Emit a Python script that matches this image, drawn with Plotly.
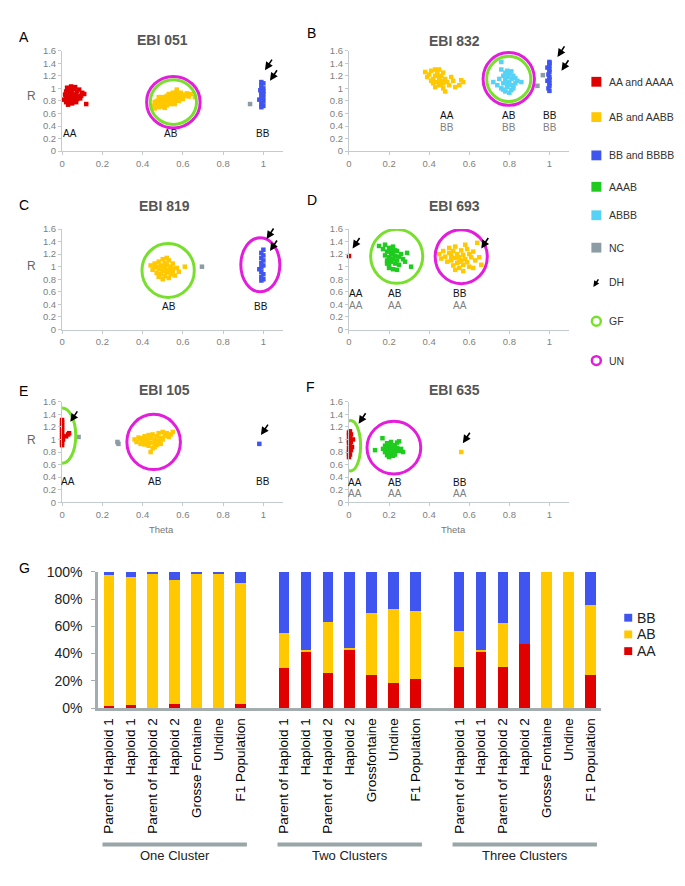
import plotly.graph_objects as go

# the page body keeps an 8px margin, so the figure is 16px smaller than the window
PAGE_W, PAGE_H, PAD = 685, 886, 8
W, H = PAGE_W - 2 * PAD, PAGE_H - 2 * PAD
FONT = "Arial, Liberation Sans, sans-serif"

RED = "#e00000"
YEL = "#ffc800"
BLU = "#4055ef"
GRN = "#1ecb1e"
CYN = "#55d2f5"
NCG = "#8c9ca4"
GF_COL = "#78e02c"
UN_COL = "#e41ddc"

# ---------------- scatter data (theta, R) ----------------
# A  EBI 051
a_aa_x = [0.01, 0.015, 0.02, 0.02, 0.025, 0.03, 0.03, 0.035, 0.04, 0.04, 0.045, 0.05, 0.05, 0.055, 0.06, 0.06,
          0.065, 0.07, 0.07, 0.075, 0.08, 0.085, 0.09, 0.095, 0.10, 0.11, 0.12, 0.02, 0.03, 0.04, 0.05, 0.06,
          0.035, 0.045, 0.055, 0.025, 0.065, 0.075]
a_aa_y = [0.82, 0.9, 0.78, 0.95, 0.85, 0.74, 1.0, 0.88, 0.8, 0.97, 1.03, 0.76, 0.92, 0.86, 0.99, 0.82,
          1.02, 0.9, 0.78, 0.95, 0.87, 0.98, 0.84, 0.88, 0.93, 0.91, 0.75, 0.87, 0.93, 0.85, 1.0, 0.9,
          0.8, 0.94, 0.79, 1.01, 0.86, 0.83]
a_ab_x = [0.45, 0.46, 0.47, 0.47, 0.48, 0.48, 0.49, 0.49, 0.50, 0.50, 0.50, 0.51, 0.51, 0.52, 0.52, 0.52,
          0.53, 0.53, 0.53, 0.54, 0.54, 0.54, 0.55, 0.55, 0.55, 0.56, 0.56, 0.57, 0.57, 0.58, 0.58, 0.59,
          0.59, 0.60, 0.60, 0.61, 0.62, 0.63, 0.64, 0.66, 0.46, 0.48, 0.51, 0.56, 0.57]
a_ab_y = [0.72, 0.68, 0.75, 0.80, 0.70, 0.78, 0.74, 0.83, 0.71, 0.79, 0.86, 0.76, 0.82, 0.73, 0.80, 0.88,
          0.77, 0.84, 0.91, 0.75, 0.82, 0.88, 0.79, 0.86, 0.93, 0.81, 0.90, 0.84, 0.95, 0.80, 0.89, 0.86,
          0.93, 0.83, 0.90, 0.88, 0.92, 0.87, 0.91, 0.86, 0.78, 0.86, 0.69, 0.75, 0.98]
a_nc_x = [0.934]
a_nc_y = [0.75]
a_bb_x = [0.99, 1.0, 0.99, 1.0, 0.98, 1.0, 0.99, 1.0, 0.99, 1.0, 0.985, 1.0, 0.99, 1.0, 0.99]
a_bb_y = [0.70, 0.72, 0.76, 0.79, 0.82, 0.85, 0.88, 0.91, 0.93, 0.95, 0.97, 1.0, 1.04, 1.08, 1.1]

# B  EBI 832
b_ab_x = [0.38, 0.39, 0.40, 0.41, 0.41, 0.42, 0.42, 0.43, 0.43, 0.44, 0.44, 0.45, 0.45, 0.45, 0.46, 0.46,
          0.47, 0.47, 0.48, 0.48, 0.49, 0.50, 0.51, 0.52, 0.53, 0.55, 0.56, 0.57, 0.44, 0.46, 0.43, 0.47]
b_ab_y = [1.26, 1.18, 1.22, 1.12, 1.28, 1.15, 1.08, 1.2, 1.3, 1.1, 1.25, 1.05, 1.16, 1.3, 1.12, 1.2,
          1.0, 1.08, 1.15, 0.95, 1.1, 1.05, 1.18, 1.12, 1.02, 1.05, 1.13, 1.1, 1.22, 1.06, 1.02, 1.25]
b_abbb_x = [0.72, 0.74, 0.75, 0.76, 0.76, 0.77, 0.77, 0.78, 0.78, 0.78, 0.79, 0.79, 0.79, 0.80, 0.80, 0.80,
            0.81, 0.81, 0.81, 0.82, 0.82, 0.83, 0.83, 0.84, 0.86, 0.76, 0.79, 0.77, 0.80, 0.82, 0.78, 0.81]
b_abbb_y = [1.10, 1.05, 1.15, 1.42, 1.00, 1.20, 1.08, 0.95, 1.12, 1.25, 1.02, 1.18, 1.28, 0.93, 1.10, 1.22,
            1.05, 1.15, 1.27, 1.00, 1.20, 1.08, 1.16, 1.12, 1.10, 1.30, 1.06, 0.98, 1.25, 1.04, 1.18, 0.97]
b_nc_x = [0.94, 0.967]
b_nc_y = [1.04, 1.21]
b_bb_x = [1.0, 0.995, 1.0, 1.0, 0.99, 1.0, 1.0, 0.995, 1.0, 1.0, 0.99, 1.0, 1.0, 1.0]
b_bb_y = [0.96, 1.0, 1.04, 1.08, 1.12, 1.14, 1.18, 1.22, 1.26, 1.30, 1.33, 1.36, 1.40, 1.42]

# C  EBI 819
c_ab_x = [0.44, 0.45, 0.46, 0.47, 0.47, 0.48, 0.48, 0.49, 0.49, 0.50, 0.50, 0.50, 0.51, 0.51, 0.51, 0.52,
          0.52, 0.53, 0.53, 0.53, 0.54, 0.54, 0.55, 0.55, 0.56, 0.57, 0.58, 0.61, 0.48, 0.52, 0.55, 0.50, 0.46]
c_ab_y = [1.02, 0.95, 1.05, 0.90, 1.0, 0.96, 1.08, 0.88, 1.02, 0.93, 1.0, 1.12, 0.85, 0.97, 1.06, 0.91,
          1.03, 0.82, 0.95, 1.1, 0.88, 1.0, 0.93, 1.05, 0.86, 0.98, 0.92, 1.0, 0.84, 1.14, 0.97, 0.8, 0.99]
c_nc_x = [0.695]
c_nc_y = [1.0]
c_bb_x = [0.99, 1.0, 0.99, 1.0, 0.99, 0.98, 0.99, 1.0, 0.99, 1.0, 0.99, 1.0, 0.99, 1.0]
c_bb_y = [0.78, 0.80, 0.84, 0.88, 0.92, 0.96, 0.99, 1.02, 1.06, 1.10, 1.14, 1.18, 1.22, 1.27]

# D  EBI 693
d_aa_x = [0.0]
d_aa_y = [1.17]
d_aaab_x = [0.15, 0.17, 0.18, 0.18, 0.19, 0.19, 0.20, 0.20, 0.20, 0.21, 0.21, 0.21, 0.22, 0.22, 0.22, 0.23,
            0.23, 0.24, 0.24, 0.25, 0.25, 0.26, 0.27, 0.28, 0.29, 0.31, 0.20, 0.22, 0.24, 0.19, 0.21, 0.23]
d_aaab_y = [1.33, 1.28, 1.18, 1.35, 1.10, 1.24, 1.02, 1.15, 1.30, 1.08, 1.20, 1.27, 0.96, 1.12, 1.22, 1.05,
            1.17, 1.10, 1.25, 1.03, 1.16, 1.20, 1.12, 1.08, 1.22, 1.0, 0.98, 1.32, 0.95, 1.05, 1.13, 1.26]
d_ab_x = [0.45, 0.46, 0.47, 0.48, 0.49, 0.50, 0.50, 0.51, 0.51, 0.52, 0.52, 0.53, 0.53, 0.54, 0.54, 0.55,
          0.55, 0.56, 0.56, 0.57, 0.57, 0.58, 0.58, 0.59, 0.60, 0.60, 0.61, 0.62, 0.63, 0.64, 0.65, 0.66,
          0.53, 0.57, 0.55, 0.59, 0.51, 0.62]
d_ab_y = [1.2, 1.13, 1.25, 1.16, 1.08, 1.22, 1.3, 1.1, 1.18, 1.02, 1.25, 1.14, 1.32, 1.06, 1.2, 0.98,
          1.15, 1.1, 1.26, 1.03, 1.19, 1.12, 1.35, 1.07, 1.2, 1.0, 1.15, 1.24, 1.1, 1.38, 1.15, 1.03,
          0.95, 0.93, 1.08, 1.28, 1.13, 0.98]

# E  EBI 105
e_aa_x = [0.0, 0.0, 0.0, 0.0, 0.0, 0.0, 0.0, 0.0, 0.0, 0.0, 0.0, 0.005, 0.02, 0.03, 0.035]
e_aa_y = [0.91, 0.95, 0.99, 1.03, 1.07, 1.11, 1.15, 1.19, 1.23, 1.27, 1.31, 1.0, 1.05, 1.08, 1.1]
e_nc_x = [0.082, 0.275, 0.28]
e_nc_y = [1.04, 0.96, 0.93]
e_ab_x = [0.36, 0.37, 0.38, 0.39, 0.39, 0.40, 0.41, 0.41, 0.42, 0.42, 0.43, 0.43, 0.44, 0.44, 0.45, 0.45,
          0.46, 0.46, 0.47, 0.47, 0.48, 0.48, 0.49, 0.49, 0.50, 0.50, 0.51, 0.52, 0.53, 0.54, 0.55, 0.44,
          0.46, 0.42, 0.48, 0.40]
e_ab_y = [1.0, 0.96, 1.03, 0.93, 1.01, 0.98, 1.05, 0.92, 1.0, 0.96, 1.07, 0.9, 1.02, 0.95, 1.08, 0.86,
          1.0, 0.94, 1.05, 0.91, 1.1, 0.98, 1.02, 0.93, 1.12, 1.0, 1.06, 1.1, 1.04, 1.08, 1.12, 0.8,
          0.88, 0.97, 0.95, 1.02]
e_bb_x = [0.98]
e_bb_y = [0.93]

# F  EBI 635
f_aa_x = [0.0, 0.005, 0.0, 0.01, 0.0, 0.015, 0.005, 0.0, 0.01, 0.0, 0.02, 0.005, 0.0, 0.01, 0.0, 0.005, 0.0]
f_aa_y = [0.72, 0.76, 0.80, 0.83, 0.86, 0.88, 0.91, 0.94, 0.96, 0.99, 1.0, 1.03, 1.06, 1.08, 1.11, 1.13, 0.78]
f_aaab_x = [0.13, 0.167, 0.17, 0.18, 0.18, 0.19, 0.19, 0.20, 0.20, 0.20, 0.21, 0.21, 0.21, 0.22,
            0.22, 0.23, 0.23, 0.24, 0.24, 0.25, 0.25, 0.26, 0.27, 0.22, 0.2, 0.23, 0.19, 0.21]
f_aaab_y = [0.83, 1.02, 0.85, 0.80, 0.90, 0.75, 0.86, 0.82, 0.93, 0.72, 0.78, 0.88, 0.96, 0.84,
            0.74, 0.80, 0.91, 0.86, 0.95, 0.82, 0.97, 0.85, 0.80, 0.89, 0.79, 0.76, 0.94, 0.83]
f_ab_x = [0.56]
f_ab_y = [0.80]

# circled groups: (kind, centre theta, centre R, half width, half height)
a_rings = [("UN", 0.553, 0.78, 0.133, 0.41), ("GF", 0.553, 0.78, 0.115, 0.355)]
b_rings = [("UN", 0.797, 1.15, 0.128, 0.42), ("GF", 0.797, 1.15, 0.110, 0.36)]
c_rings = [("GF", 0.527, 0.94, 0.130, 0.43), ("UN", 0.985, 1.03, 0.097, 0.43)]
d_rings = [("GF", 0.238, 1.165, 0.130, 0.43), ("UN", 0.56, 1.16, 0.130, 0.43)]
e_rings = [("GF", 0.0, 1.06, 0.068, 0.44), ("UN", 0.455, 0.96, 0.133, 0.44)]
f_rings = [("GF", 0.008, 0.90, 0.050, 0.40), ("UN", 0.224, 0.87, 0.134, 0.42)]

# DH arrows (tip theta, tip R)
a_dh = [(1.008, 1.29), (1.033, 1.12)]
b_dh = [(1.04, 1.50), (1.06, 1.28)]
c_dh = [(1.016, 1.44), (1.033, 1.25)]
d_dh = [(0.018, 1.29), (0.66, 1.29)]
e_dh = [(0.041, 1.28), (0.988, 1.07)]
f_dh = [(0.048, 1.25), (0.568, 0.94)]

# cluster call labels (theta, R, first line, second line)
a_calls = [(0.04, 0.28, "AA", ""), (0.54, 0.28, "AB", ""), (1.0, 0.28, "BB", "")]
b_calls = [(0.49, 0.56, "AA", "BB"), (0.80, 0.56, "AB", "BB"), (1.005, 0.56, "BB", "BB")]
c_calls = [(0.53, 0.37, "AB", ""), (0.99, 0.37, "BB", "")]
d_calls = [(0.035, 0.57, "AA", "AA"), (0.23, 0.57, "AB", "AA"), (0.556, 0.57, "BB", "AA")]
e_calls = [(0.03, 0.33, "AA", ""), (0.46, 0.33, "AB", ""), (1.0, 0.33, "BB", "")]
f_calls = [(0.03, 0.32, "AA", "AA"), (0.23, 0.32, "AB", "AA"), (0.556, 0.32, "BB", "AA")]

titles = ["EBI 051", "EBI 832", "EBI 819", "EBI 693", "EBI 105", "EBI 635"]

# ---------------- bar chart data (% of samples) ----------------
groups = ["One Cluster", "Two Clusters", "Three Clusters"]
labels_one = ["Parent of Haploid 1", "Haploid 1", "Parent of Haploid 2", "Haploid 2",
              "Grosse Fontaine", "Undine", "F1 Population"]
labels_two = ["Parent of Haploid 1", "Haploid 1", "Parent of Haploid 2", "Haploid 2",
              "Grossfontaine", "Undine", "F1 Population"]
labels_three = ["Parent of Haploid 1", "Haploid 1", "Parent of Haploid 2", "Haploid 2",
                "Grosse Fontaine", "Undine", "F1 Population"]
aa_one = [1.2, 2.0, 0.0, 2.8, 0.0, 0.0, 2.8]
ab_one = [96.4, 94.0, 98.3, 91.6, 99.0, 98.3, 89.2]
bb_one = [2.4, 4.0, 1.7, 5.6, 1.0, 1.7, 8.0]
aa_two = [29.5, 41.0, 26.0, 42.5, 24.0, 18.5, 21.0]
ab_two = [25.3, 1.5, 37.0, 1.5, 46.0, 54.5, 50.5]
bb_two = [45.2, 57.5, 37.0, 56.0, 30.0, 27.0, 28.5]
aa_three = [30.5, 41.5, 30.5, 47.0, 0.0, 0.0, 24.5]
ab_three = [26.0, 0.8, 32.0, 0.0, 100.0, 100.0, 51.0]
bb_three = [43.5, 57.7, 37.5, 53.0, 0.0, 0.0, 24.5]
pct_ticks = [0, 20, 40, 60, 80, 100]


def px_x(x):
    # page pixel -> paper fraction
    return (x - PAD) / W


def px_y(y):
    return 1 - (y - PAD) / H


def paper_text(x, y, text, size, color, xanchor="center"):
    return dict(x=px_x(x), y=px_y(y), xref="paper", yref="paper", text=text, showarrow=False,
                xanchor=xanchor, yanchor="middle", font=dict(family=FONT, size=size, color=color))


fig = go.Figure()

panels = [
    ([(a_aa_x, a_aa_y, RED), (a_ab_x, a_ab_y, YEL), (a_nc_x, a_nc_y, NCG), (a_bb_x, a_bb_y, BLU)],
     a_rings, a_dh, a_calls),
    ([(b_ab_x, b_ab_y, YEL), (b_abbb_x, b_abbb_y, CYN), (b_nc_x, b_nc_y, NCG), (b_bb_x, b_bb_y, BLU)],
     b_rings, b_dh, b_calls),
    ([(c_ab_x, c_ab_y, YEL), (c_nc_x, c_nc_y, NCG), (c_bb_x, c_bb_y, BLU)],
     c_rings, c_dh, c_calls),
    ([(d_aa_x, d_aa_y, RED), (d_aaab_x, d_aaab_y, GRN), (d_ab_x, d_ab_y, YEL)],
     d_rings, d_dh, d_calls),
    ([(e_aa_x, e_aa_y, RED), (e_nc_x, e_nc_y, NCG), (e_ab_x, e_ab_y, YEL), (e_bb_x, e_bb_y, BLU)],
     e_rings, e_dh, e_calls),
    ([(f_aa_x, f_aa_y, RED), (f_aaab_x, f_aaab_y, GRN), (f_ab_x, f_ab_y, YEL)],
     f_rings, f_dh, f_calls),
]

# pixel boxes of the six scatter plot areas (left, right, top=1.6, bottom=0)
col_px = [(59.3, 281.7), (347.5, 569.0)]
row_px = [(43.3, 145.7), (225.0, 327.4), (401.0, 503.4)]
letter_pos = [(21, 29), (310, 25), (21, 201), (310, 195), (21, 390), (309, 386)]
title_pos = [(160, 32), (453, 33), (162, 202), (453, 202), (162, 389), (453, 389)]

shapes = []
annotations = []
layout_axes = {}

for i, (traces, rings, dh, calls) in enumerate(panels):
    n = i + 1
    xa = "x" if n == 1 else f"x{n}"
    ya = "y" if n == 1 else f"y{n}"
    c0, c1 = col_px[i % 2]
    r0, r1 = row_px[i // 2]
    for xs, ys, col in traces:
        fig.add_trace(go.Scatter(
            x=xs, y=ys, mode="markers", xaxis=xa, yaxis=ya, cliponaxis=False,
            marker=dict(symbol="square", size=4.5, color=col, line=dict(width=0)),
            showlegend=False, hoverinfo="skip",
        ))
    axis_common = dict(
        showline=True, linecolor="#c3cbcf", linewidth=1, ticks="outside", ticklen=3,
        tickcolor="#c3cbcf", tickfont=dict(family=FONT, size=9.5, color="#808080"),
        showgrid=False, zeroline=False, fixedrange=True,
    )
    layout_axes["xaxis" if n == 1 else f"xaxis{n}"] = dict(
        domain=[px_x(c0), px_x(c1)], range=[0, 1.1], tick0=0, dtick=0.2,
        anchor=ya, **axis_common)
    layout_axes["yaxis" if n == 1 else f"yaxis{n}"] = dict(
        domain=[px_y(r1), px_y(r0)], range=[0, 1.6], tick0=0, dtick=0.2,
        anchor=xa, **axis_common)

    for kind, cx, cy, rx, ry in rings:
        shapes.append(dict(
            type="circle", xref=xa, yref=ya, x0=cx - rx, x1=cx + rx, y0=cy - ry, y1=cy + ry,
            line=dict(color=GF_COL if kind == "GF" else UN_COL, width=3)))
    for tx, ty in dh:
        annotations.append(dict(
            x=tx, y=ty, xref=xa, yref=ya, ax=8, ay=-12, text="", showarrow=True,
            arrowhead=2, arrowsize=1, arrowwidth=1.6, arrowcolor="black"))
    for cx, cy, top, bottom in calls:
        annotations.append(dict(x=cx, y=cy, xref=xa, yref=ya, text=top, showarrow=False,
                                font=dict(family=FONT, size=10, color="#111")))
        if bottom:
            annotations.append(dict(x=cx, y=cy - 0.18, xref=xa, yref=ya, text=bottom,
                                    showarrow=False, font=dict(family=FONT, size=10, color="#808080")))
    lx, ly = letter_pos[i]
    annotations.append(paper_text(lx, ly, "ABCDEF"[i], 14, "black"))
    tx, ty = title_pos[i]
    annotations.append(paper_text(tx, ty, f"<b>{titles[i]}</b>", 14, "#555555"))

# "R" and "Theta" axis names
for ry_px in (90, 263, 440):
    annotations.append(paper_text(29, ry_px, "R", 12, "#666"))
for tx_px in (159, 452):
    annotations.append(paper_text(tx_px, 531, "Theta", 9.5, "#777"))

# key on the right
key_items = [("sq", RED, "AA and AAAA", 75), ("sq", YEL, "AB and AABB", 111), ("sq", BLU, "BB and BBBB", 150),
             ("sq", GRN, "AAAB", 182), ("sq", CYN, "ABBB", 211), ("sq", NCG, "NC", 244),
             ("dh", "black", "DH", 279), ("ring", GF_COL, "GF", 319), ("ring", UN_COL, "UN", 359)]
for kind, col, name, yk in key_items:
    if kind == "sq":
        shapes.append(dict(type="rect", xref="paper", yref="paper", x0=px_x(591), x1=px_x(601),
                           y0=px_y(yk + 5), y1=px_y(yk - 5), fillcolor=col, line=dict(width=0)))
    elif kind == "ring":
        shapes.append(dict(type="circle", xref="paper", yref="paper", x0=px_x(591.5), x1=px_x(600.5),
                           y0=px_y(yk + 4.5), y1=px_y(yk - 4.5), line=dict(color=col, width=2.5)))
    else:
        annotations.append(dict(x=px_x(593), y=px_y(yk + 5), xref="paper", yref="paper", ax=6, ay=-9,
                                text="", showarrow=True, arrowhead=2, arrowsize=0.8, arrowwidth=1.5,
                                arrowcolor="black"))
    annotations.append(paper_text(607, yk, name, 10.5, "#333", xanchor="left"))

# ---------------- G: stacked bars ----------------
bar_sets = [(labels_one, aa_one, ab_one, bb_one),
            (labels_two, aa_two, ab_two, bb_two),
            (labels_three, aa_three, ab_three, bb_three)]
pos, ticktext, aa_all, ab_all, bb_all = [], [], [], [], []
for g, (labs, aa, ab, bb) in enumerate(bar_sets):
    for j, lab in enumerate(labs):
        pos.append(g * 8 + j)
        ticktext.append(lab)
    aa_all += aa
    ab_all += ab
    bb_all += bb

for name, vals, col in (("AA", aa_all, RED), ("AB", ab_all, YEL), ("BB", bb_all, BLU)):
    fig.add_trace(go.Bar(x=pos, y=vals, name=name, marker=dict(color=col, line=dict(width=0)),
                         xaxis="x7", yaxis="y7", showlegend=False, hoverinfo="skip"))

layout_axes["xaxis7"] = dict(
    domain=[px_x(95.5), px_x(601)], range=[-0.5, 22.5], anchor="y7",
    tickmode="array", tickvals=pos, ticktext=ticktext, tickangle=-90,
    tickfont=dict(family=FONT, size=13.5, color="black"), ticks="", ticklabelstandoff=2,
    showline=True, linecolor="#a3adb0", linewidth=2.5, showgrid=False, zeroline=False, fixedrange=True)
layout_axes["yaxis7"] = dict(
    domain=[px_y(713), px_y(574.3)], range=[0, 100], anchor="x7",
    tickmode="array", tickvals=pct_ticks, ticktext=[f"{v}%" for v in pct_ticks],
    ticks="outside", ticklen=4, tickcolor="#a3adb0", ticklabelstandoff=6,
    tickfont=dict(family=FONT, size=14, color="#222"),
    showline=True, linecolor="#a3adb0", linewidth=2.5, showgrid=False, zeroline=False, fixedrange=True)

for g, gname in enumerate(groups):
    shapes.append(dict(type="line", xref="x7", yref="paper", x0=g * 8 - 0.3, x1=g * 8 + 6.3,
                       y0=px_y(852), y1=px_y(852), line=dict(color="#9aa5a8", width=4)))
    annotations.append(dict(x=g * 8 + 3, y=px_y(863), xref="x7", yref="paper", text=gname,
                            xanchor="center", yanchor="middle", showarrow=False,
                            font=dict(family=FONT, size=13, color="#222")))

annotations.append(paper_text(22, 570, "G", 14, "black"))

for name, col, yk in (("BB", BLU, 621), ("AB", YEL, 638), ("AA", RED, 655)):
    shapes.append(dict(type="rect", xref="paper", yref="paper", x0=px_x(624), x1=px_x(632),
                       y0=px_y(yk + 4), y1=px_y(yk - 4), fillcolor=col, line=dict(width=0)))
    annotations.append(paper_text(635, yk, name, 14, "#222", xanchor="left"))

fig.update_layout(
    width=W, height=H, margin=dict(l=0, r=0, t=0, b=0),
    paper_bgcolor="white", plot_bgcolor="white",
    barmode="stack", bargap=0.515, showlegend=False,
    shapes=shapes, annotations=annotations,
    font=dict(family=FONT),
    **layout_axes,
)

fig.write_html("out.html")
